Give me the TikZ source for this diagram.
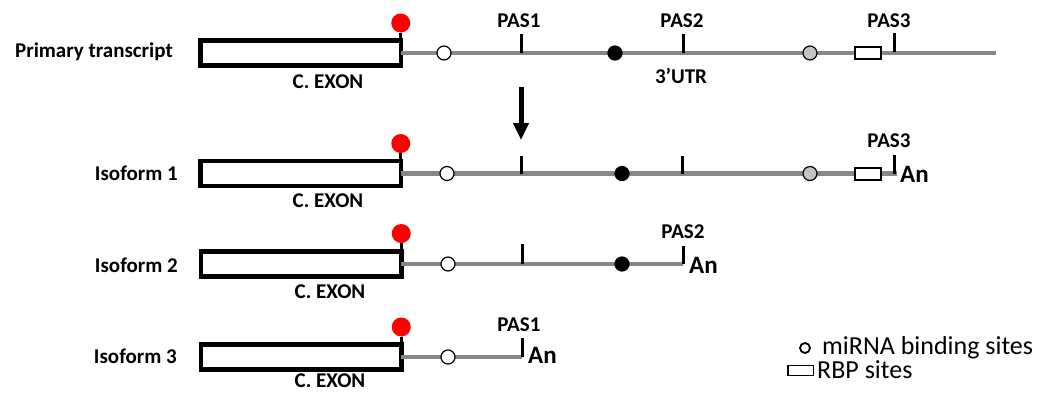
\documentclass[tikz,border=0pt]{standalone}
\usepackage{fontspec}
\setmainfont{Carlito}
\usetikzlibrary{positioning,arrows.meta}

\definecolor{utrgray}{RGB}{135,135,135}
\definecolor{sitegray}{RGB}{195,195,195}

\begin{document}
\begin{tikzpicture}[x=1pt, y=-1pt,
    lbl/.style={font=\bfseries\fontsize{21}{25}\selectfont, inner sep=0pt},
    polya/.style={font=\bfseries\fontsize{25}{30}\selectfont, inner sep=0pt, anchor=base west},
    legendtext/.style={font=\fontsize{26}{31}\selectfont, inner sep=0pt, anchor=base west},
    exon/.style={draw, line width=4.5pt, fill=white, minimum width=200.5pt, minimum height=25pt, inner sep=0pt, outer sep=0pt},
    utr/.style={draw=utrgray, line width=4.5pt},
    pas/.style={line width=3pt},
    stem/.style={line width=3pt},
    capdot/.style={circle, fill=red, minimum size=19pt, inner sep=0pt},
    mirna/.style={circle, draw, line width=1.2pt, fill=white, minimum size=14pt, inner sep=0pt},
    blacksite/.style={circle, draw, line width=1.2pt, fill=black, minimum size=14pt, inner sep=0pt},
    graysite/.style={circle, draw, line width=1.2pt, fill=sitegray, minimum size=14pt, inner sep=0pt},
    rbp/.style={draw, line width=1.5pt, fill=white, minimum width=26pt, minimum height=12pt, inner sep=0pt}
]
\useasboundingbox (0,0) rectangle (1041,392);

\node[lbl, anchor=base east] (name0) at (173,57) {Primary transcript};
\node[exon] (ex0) at (300.5,53) {};
\coordinate (end0) at (996,53);
\draw[utr] (ex0.east) -- (end0);
\draw[pas] (521,53) -- (521,34) node[lbl, anchor=base, yshift=7pt, xshift=-2pt] (pas01) {PAS1};
\draw[pas] (683,53) -- (683,34) node[lbl, anchor=base, yshift=7pt, xshift=-1pt] (pas02) {PAS2};
\draw[pas] (894,52) -- (894,33) node[lbl, anchor=base, yshift=6pt, xshift=-5pt] (pas03) {PAS3};
\node[mirna] (mi0) at (444,53) {};
\node[blacksite] (bs0) at (615,53) {};
\node[graysite] (gs0) at (810,53) {};
\node[rbp] (rbp0) at (868,53) {};
\node[lbl, anchor=base] (utrlbl) at (681,83) {3’UTR};
\node[lbl, anchor=base] (cex0) at (328,88) {C. EXON};
\node[capdot] (cap0) at (400.75,23) {};
\draw[stem] (cap0) -- (ex0.north east);

\coordinate (arrtop) at (521,87);
\coordinate (arrtip) at (521,140);
\draw[line width=5pt, -{Triangle[width=15pt,length=17pt]}] (arrtop) -- (arrtip);

\node[lbl, anchor=base east] (name1) at (178,180) {Isoform 1};
\node[exon] (ex1) at (300.5,173.5) {};
\coordinate (end1) at (897,173.5);
\draw[utr] (ex1.east) -- (end1);
\draw[pas] (521,173.5) -- (521,155.5);
\draw[pas] (682,173.5) -- (682,155.5);
\draw[pas] (894,173.5) -- (894,155) node[lbl, anchor=base, yshift=8pt, xshift=-5pt] (pas13) {PAS3};
\node[mirna] (mi1) at (447,173.5) {};
\node[blacksite] (bs1) at (622,173.5) {};
\node[graysite] (gs1) at (810,173.5) {};
\node[rbp] (rbp1) at (868,174) {};
\node[polya] (an1) at (900,182) {An};
\node[lbl, anchor=base] (cex1) at (328,207) {C. EXON};
\node[capdot] (cap1) at (400.75,143.5) {};
\draw[stem] (cap1) -- (ex1.north east);

\node[lbl, anchor=base east] (name2) at (178,272) {Isoform 2};
\node[exon] (ex2) at (301,264) {};
\coordinate (end2) at (683,264);
\draw[utr] (ex2.east) -- (end2);
\draw[pas] (522,264) -- (522,244);
\draw[pas] (683,264) -- (683,246) node[lbl, anchor=base, yshift=8pt] (pas22) {PAS2};
\node[mirna] (mi2) at (448,264) {};
\node[blacksite] (bs2) at (622,264) {};
\node[polya] (an2) at (689,273) {An};
\node[lbl, anchor=base] (cex2) at (330,298) {C. EXON};
\node[capdot] (cap2) at (401.25,233.5) {};
\draw[stem] (cap2) -- (ex2.north east);

\node[lbl, anchor=base east] (name3) at (177,363) {Isoform 3};
\node[exon] (ex3) at (301,357) {};
\coordinate (end3) at (522,357);
\draw[utr] (ex3.east) -- (end3);
\draw[pas] (522,357) -- (522,338) node[lbl, anchor=base, yshift=7pt, xshift=-3pt] (pas31) {PAS1};
\node[mirna] (mi3) at (448,357) {};
\node[polya] (an3) at (528,363) {An};
\node[lbl, anchor=base] (cex3) at (330,387) {C. EXON};
\node[capdot] (cap3) at (401.25,327) {};
\draw[stem] (cap3) -- (ex3.north east);

\node[circle, draw, line width=1.8pt, minimum size=10pt, inner sep=0pt] (legmi) at (805,348) {};
\node[legendtext] (legmitext) at (822,354) {miRNA binding sites};
\node[draw, line width=1.5pt, minimum width=25.5pt, minimum height=10pt, inner sep=0pt] (legrbp) at (800.5,370.5) {};
\node[legendtext] (legrbptext) at (817,378) {RBP sites};
\end{tikzpicture}
\end{document}
